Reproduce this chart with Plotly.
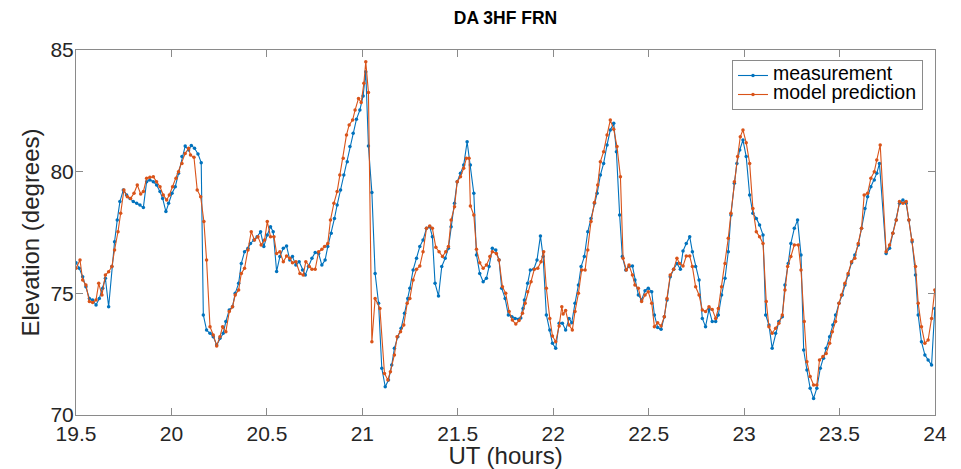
import plotly.graph_objects as go

# ---- data ----
meas_t = [19.500, 19.517, 19.535, 19.552, 19.570, 19.587, 19.605, 19.622, 19.640, 19.654,
          19.671, 19.688, 19.702, 19.716, 19.730, 19.748, 19.765, 19.783, 19.800, 19.818,
          19.835, 19.853, 19.870, 19.887, 19.905, 19.922, 19.940, 19.954, 19.971, 19.985,
          20.003, 20.020, 20.037, 20.055, 20.072, 20.090, 20.104, 20.121, 20.139, 20.156,
          20.167, 20.184, 20.202, 20.219, 20.237, 20.254, 20.271, 20.285, 20.303, 20.320,
          20.334, 20.352, 20.366, 20.383, 20.401, 20.414, 20.432, 20.449, 20.467, 20.484,
          20.502, 20.519, 20.533, 20.551, 20.568, 20.586, 20.603, 20.620, 20.634, 20.652,
          20.669, 20.687, 20.701, 20.718, 20.736, 20.753, 20.771, 20.788, 20.805, 20.819,
          20.837, 20.854, 20.868, 20.886, 20.903, 20.921, 20.935, 20.952, 20.969, 20.987,
          21.004, 21.018, 21.032, 21.050, 21.067, 21.085, 21.102, 21.120, 21.137, 21.154,
          21.168, 21.186, 21.203, 21.221, 21.238, 21.249, 21.266, 21.284, 21.301, 21.318,
          21.336, 21.353, 21.367, 21.381, 21.399, 21.416, 21.434, 21.451, 21.465, 21.483,
          21.497, 21.514, 21.531, 21.549, 21.566, 21.584, 21.598, 21.615, 21.633, 21.650,
          21.664, 21.681, 21.699, 21.716, 21.730, 21.748, 21.765, 21.783, 21.800, 21.818,
          21.830, 21.842, 21.849, 21.866, 21.880, 21.898, 21.915, 21.933, 21.947, 21.964,
          21.982, 21.996, 22.013, 22.031, 22.048, 22.065, 22.083, 22.097, 22.114, 22.132,
          22.146, 22.163, 22.181, 22.198, 22.216, 22.230, 22.247, 22.264, 22.282, 22.299,
          22.317, 22.331, 22.348, 22.362, 22.380, 22.397, 22.415, 22.428, 22.446, 22.463,
          22.481, 22.498, 22.516, 22.530, 22.547, 22.565, 22.582, 22.596, 22.613, 22.631,
          22.648, 22.666, 22.680, 22.697, 22.715, 22.729, 22.746, 22.764, 22.781, 22.798,
          22.816, 22.833, 22.851, 22.865, 22.882, 22.900, 22.917, 22.931, 22.949, 22.962,
          22.977, 22.994, 23.011, 23.029, 23.046, 23.064, 23.081, 23.099, 23.113, 23.130,
          23.147, 23.165, 23.182, 23.200, 23.214, 23.231, 23.245, 23.263, 23.280, 23.298,
          23.312, 23.329, 23.346, 23.364, 23.381, 23.399, 23.416, 23.430, 23.448, 23.465,
          23.479, 23.497, 23.514, 23.528, 23.545, 23.563, 23.580, 23.598, 23.615, 23.633,
          23.647, 23.664, 23.682, 23.695, 23.709, 23.744, 23.762, 23.779, 23.797, 23.814,
          23.832, 23.849, 23.863, 23.880, 23.898, 23.912, 23.929, 23.947, 23.964, 23.982,
          23.999]
meas_el = [76.26, 76.03, 75.68, 75.27, 74.79, 74.73, 74.52, 74.79, 75.21, 75.62,
           74.45, 76.10, 77.12, 78.01, 78.77, 79.25, 79.04, 78.90, 78.77, 78.70,
           78.63, 78.53, 79.59, 79.66, 79.59, 79.45, 79.18, 78.90, 78.36, 78.70,
           79.11, 79.38, 79.93, 80.62, 81.05, 80.89, 81.08, 80.96, 80.73, 80.37,
           74.11, 73.49, 73.36, 73.22, 72.88, 73.15, 73.36, 73.84, 74.32, 74.45,
           75.00, 75.41, 76.23, 76.71, 76.85, 77.05, 77.19, 77.33, 77.53, 76.92,
           77.40, 77.74, 77.53, 75.90, 76.51, 76.85, 76.95, 76.37, 76.51, 76.16,
           76.30, 75.96, 75.75, 76.10, 76.44, 76.68, 76.64, 76.16, 76.37, 76.92,
           77.47, 78.08, 78.63, 79.25, 79.86, 80.41, 81.03, 81.58, 82.15, 82.53,
           83.11, 84.11, 81.05, 79.14, 75.82, 74.59, 71.92, 71.16, 71.44, 72.05,
           72.74, 73.22, 73.56, 74.18, 74.79, 75.21, 75.96, 76.44, 76.92, 77.19,
           77.67, 77.74, 77.33, 75.41, 74.89, 76.10, 76.44, 76.85, 77.74, 78.70,
           79.59, 79.93, 80.27, 81.23, 80.27, 79.11, 76.58, 75.82, 75.48, 75.62,
           76.10, 76.85, 76.78, 76.37, 75.21, 74.79, 74.11, 74.04, 73.97, 73.93,
           73.99, 74.38, 74.73, 75.41, 75.96, 75.99, 76.37, 77.36, 76.51, 74.11,
           73.49, 72.95, 72.74, 73.77, 73.77, 73.49, 73.97, 73.79, 74.59, 75.34,
           76.10, 76.51, 77.53, 78.08, 78.70, 79.11, 79.86, 80.34, 81.10, 81.71,
           81.99, 80.82, 78.22, 76.51, 75.96, 76.10, 76.12, 75.55, 74.93, 74.73,
           75.11, 75.21, 75.07, 74.11, 73.60, 73.52, 74.04, 74.73, 75.68, 75.99,
           76.23, 75.99, 76.74, 77.05, 77.33, 76.71, 76.10, 75.55, 73.97, 73.63,
           74.34, 73.84, 73.84, 74.11, 74.93, 75.62, 76.71, 78.22, 79.52, 80.34,
           80.89, 81.30, 80.62, 79.04, 78.29, 78.08, 77.81, 77.40, 74.11, 73.70,
           72.74, 73.36, 73.84, 74.04, 75.34, 76.23, 77.05, 77.67, 78.01, 76.58,
           72.67, 71.85, 71.10, 70.68, 71.10, 71.92, 72.33, 72.74, 73.22, 73.70,
           74.11, 74.59, 74.93, 75.34, 75.75, 76.26, 76.58, 76.99, 77.67, 78.49,
           78.97, 79.38, 79.66, 79.93, 80.34, 76.64, 76.85, 77.47, 78.01, 78.70,
           78.84, 78.70, 78.01, 77.12, 75.75, 74.11, 73.01, 72.47, 72.26, 72.05,
           74.38]

model_t = [19.500, 19.521, 19.535, 19.552, 19.570, 19.587, 19.605, 19.619, 19.636, 19.654,
           19.671, 19.688, 19.702, 19.720, 19.734, 19.751, 19.769, 19.786, 19.804, 19.821,
           19.839, 19.853, 19.870, 19.887, 19.905, 19.922, 19.940, 19.957, 19.975, 19.989,
           20.006, 20.024, 20.037, 20.055, 20.072, 20.090, 20.100, 20.118, 20.135, 20.153,
           20.170, 20.184, 20.202, 20.219, 20.237, 20.254, 20.268, 20.285, 20.303, 20.320,
           20.334, 20.352, 20.366, 20.383, 20.401, 20.418, 20.435, 20.453, 20.470, 20.488,
           20.502, 20.519, 20.537, 20.551, 20.568, 20.586, 20.603, 20.620, 20.634, 20.652,
           20.673, 20.690, 20.704, 20.722, 20.736, 20.753, 20.771, 20.788, 20.802, 20.819,
           20.833, 20.851, 20.868, 20.882, 20.900, 20.917, 20.931, 20.949, 20.962, 20.980,
           20.994, 21.008, 21.018, 21.032, 21.050, 21.067, 21.092, 21.116, 21.134, 21.147,
           21.168, 21.182, 21.200, 21.217, 21.235, 21.249, 21.266, 21.284, 21.301, 21.318,
           21.336, 21.353, 21.367, 21.385, 21.402, 21.420, 21.437, 21.451, 21.465, 21.483,
           21.497, 21.514, 21.531, 21.545, 21.559, 21.566, 21.584, 21.598, 21.615, 21.633,
           21.650, 21.668, 21.681, 21.702, 21.716, 21.734, 21.751, 21.769, 21.786, 21.804,
           21.821, 21.839, 21.853, 21.866, 21.884, 21.901, 21.919, 21.936, 21.950, 21.964,
           21.982, 21.996, 22.013, 22.031, 22.045, 22.052, 22.065, 22.083, 22.100, 22.114,
           22.132, 22.149, 22.167, 22.181, 22.198, 22.216, 22.233, 22.247, 22.264, 22.282,
           22.299, 22.317, 22.334, 22.352, 22.366, 22.383, 22.397, 22.415, 22.428, 22.446,
           22.463, 22.481, 22.498, 22.516, 22.530, 22.547, 22.565, 22.582, 22.596, 22.613,
           22.631, 22.648, 22.662, 22.680, 22.697, 22.715, 22.729, 22.746, 22.764, 22.781,
           22.798, 22.816, 22.833, 22.851, 22.865, 22.882, 22.900, 22.917, 22.931, 22.949,
           22.966, 22.980, 22.994, 23.011, 23.029, 23.046, 23.064, 23.081, 23.099, 23.116,
           23.130, 23.147, 23.165, 23.182, 23.200, 23.214, 23.228, 23.245, 23.263, 23.284,
           23.298, 23.315, 23.329, 23.346, 23.364, 23.381, 23.395, 23.413, 23.430, 23.448,
           23.462, 23.479, 23.497, 23.510, 23.528, 23.545, 23.563, 23.580, 23.598, 23.615,
           23.629, 23.647, 23.664, 23.682, 23.695, 23.713, 23.744, 23.762, 23.779, 23.797,
           23.814, 23.832, 23.849, 23.863, 23.880, 23.898, 23.912, 23.929, 23.947, 23.964,
           23.982, 23.999]
model_el = [76.03, 76.37, 75.55, 75.34, 74.66, 74.62, 74.73, 75.41, 74.93, 75.75,
            75.89, 76.10, 76.78, 77.53, 78.29, 79.25, 78.97, 78.90, 79.11, 79.45,
            79.08, 79.18, 79.73, 79.77, 79.79, 79.59, 79.38, 79.04, 78.84, 79.04,
            79.38, 79.73, 80.00, 80.34, 80.75, 80.96, 80.68, 80.59, 79.25, 78.97,
            77.95, 76.37, 73.63, 73.29, 72.84, 73.22, 73.63, 73.42, 74.25, 74.45,
            74.93, 75.14, 75.82, 76.03, 76.78, 77.53, 77.19, 77.33, 76.99, 77.19,
            77.95, 77.33, 77.33, 76.64, 76.71, 76.30, 76.53, 76.44, 76.26, 76.30,
            75.82, 75.75, 76.30, 76.10, 75.99, 75.99, 76.71, 76.81, 76.92, 77.05,
            78.01, 78.70, 79.18, 79.86, 80.55, 81.51, 81.92, 82.12, 82.53, 83.01,
            82.84, 83.63, 84.52, 83.25, 73.01, 74.79, 74.38, 71.71, 71.44, 71.78,
            72.47, 73.22, 73.42, 73.70, 74.59, 74.79, 75.55, 75.99, 76.12, 76.71,
            77.67, 77.77, 77.67, 76.89, 76.71, 76.51, 76.71, 76.92, 78.01, 78.56,
            79.59, 79.79, 80.14, 80.55, 80.55, 78.59, 78.22, 76.81, 76.26, 76.03,
            76.16, 76.51, 76.71, 76.64, 76.37, 75.27, 75.00, 74.25, 73.90, 73.74,
            73.88, 74.18, 74.59, 75.07, 75.48, 75.99, 76.03, 76.30, 76.71, 75.21,
            73.97, 73.25, 73.01, 73.66, 74.45, 74.15, 74.29, 73.70, 73.49, 74.25,
            75.00, 75.96, 75.96, 76.78, 77.95, 78.73, 79.45, 80.41, 80.82, 81.51,
            82.12, 81.74, 81.03, 79.79, 76.44, 75.96, 76.16, 75.75, 75.34, 75.21,
            74.66, 74.93, 75.07, 74.59, 73.63, 73.79, 73.66, 74.04, 74.79, 75.75,
            75.99, 76.44, 76.23, 76.12, 76.53, 76.53, 76.10, 75.27, 74.93, 74.32,
            74.25, 74.45, 74.34, 73.97, 74.38, 75.27, 76.23, 77.26, 78.29, 79.59,
            80.62, 81.44, 81.71, 81.19, 80.34, 78.49, 77.53, 77.33, 77.05, 74.66,
            73.63, 73.36, 73.56, 73.77, 74.11, 75.14, 76.10, 76.51, 76.99, 76.99,
            75.96, 73.84, 72.19, 71.58, 71.23, 71.23, 72.26, 72.40, 72.53, 72.95,
            73.42, 73.84, 74.59, 74.93, 75.41, 75.82, 76.30, 76.44, 77.05, 77.67,
            79.04, 79.11, 79.73, 80.00, 80.48, 81.10, 76.71, 76.99, 77.47, 78.01,
            78.77, 78.70, 78.77, 78.01, 77.19, 76.10, 74.59, 73.63, 72.95, 73.08,
            73.97, 75.14]

x_ticks = [19.5, 20, 20.5, 21, 21.5, 22, 22.5, 23, 23.5, 24]
x_tick_labels = ["19.5", "20", "20.5", "21", "21.5", "22", "22.5", "23", "23.5", "24"]
y_ticks = [70, 75, 80, 85]
y_tick_labels = ["70", "75", "80", "85"]
series_names = ["measurement", "model prediction"]

BLUE = "#0072BD"
ORANGE = "#D95319"
FONT = "Liberation Sans, Arial, Helvetica, sans-serif"
AXC = "#8a8a8a"
TXT = "#262626"


def legend_label(s):
    return '<span style="font-size:19.5px">' + s + '</span>'


fig = go.Figure()
fig.add_trace(go.Scatter(x=meas_t, y=meas_el, mode="lines+markers",
                         name=legend_label(series_names[0]),
                         line=dict(color=BLUE, width=1.1),
                         marker=dict(size=3.5, color=BLUE)))
fig.add_trace(go.Scatter(x=model_t, y=model_el, mode="lines+markers",
                         name=legend_label(series_names[1]),
                         line=dict(color=ORANGE, width=1.1),
                         marker=dict(size=3.5, color=ORANGE)))

axis_common = dict(showline=True, linecolor=AXC, linewidth=1, mirror="allticks",
                   ticks="inside", ticklen=7, tickcolor=AXC, showgrid=False,
                   zeroline=False, automargin=False,
                   tickfont=dict(family=FONT, size=21, color=TXT))

fig.update_layout(
    width=953, height=461,
    margin=dict(l=68, r=26, t=42, b=54),
    paper_bgcolor="white", plot_bgcolor="white",
    font=dict(family=FONT, color=TXT),
    title=dict(text="<b>DA 3HF FRN</b>", x=0.5, xref="paper", xanchor="center",
               y=0.978, yref="container", yanchor="middle",
               font=dict(family=FONT, size=17.5, color="#000000")),
    xaxis=dict(range=[19.5, 24], tickvals=x_ticks, ticktext=x_tick_labels,
               title=dict(text="UT (hours)", font=dict(family=FONT, size=24, color=TXT),
                          standoff=0),
               **axis_common),
    yaxis=dict(range=[70, 85], tickvals=y_ticks, ticktext=y_tick_labels,
               ticklabelstandoff=-3,
               title=dict(text="Elevation (degrees)", font=dict(family=FONT, size=24, color=TXT),
                          standoff=4),
               **axis_common),
    legend=dict(x=0.986, xanchor="right", y=0.9726, yanchor="top",
                bgcolor="white", bordercolor=AXC, borderwidth=1,
                font=dict(family=FONT, size=12, color="#000000"),
                tracegroupgap=0, itemwidth=30),
    showlegend=True,
)

fig.write_html("out.html")
